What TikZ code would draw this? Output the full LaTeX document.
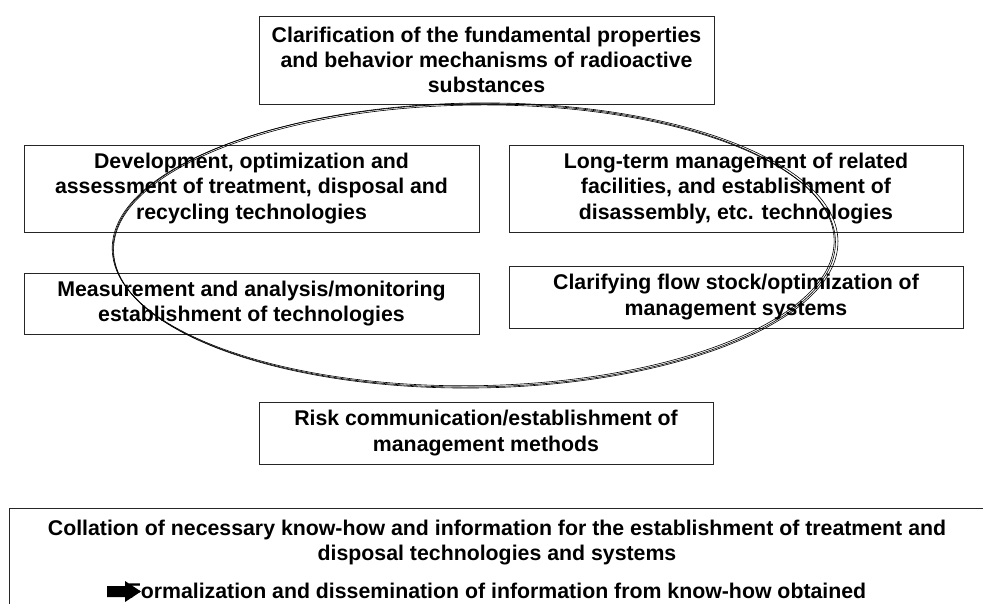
\documentclass[tikz,border=0pt]{standalone}
\usepackage{fontspec}
\setmainfont{Liberation Sans}
\begin{document}
\begin{tikzpicture}[x=1pt,y=-1pt,
  box/.style={draw=black!85, line width=0.9pt, inner sep=0pt, align=center,
    font=\bfseries\fontsize{21.3}{25.3}\selectfont},
  txt/.style={inner sep=0pt, align=center, font=\bfseries\fontsize{21.3}{25.3}\selectfont},
  ring/.style={draw=black, line width=0.6pt}]
\useasboundingbox (0,0) rectangle (983,604);
\node[box, minimum width=455pt, minimum height=88pt] (props) at (486.5,60)
  {Clarification of the fundamental properties\\and behavior mechanisms of radioactive\\substances};
\node[box, minimum width=455pt, minimum height=87pt] (dev) at (251.5,188.5)
  {Development, optimization and\\assessment of treatment, disposal and\\recycling technologies};
\node[box, minimum width=454pt, minimum height=87pt] (long) at (736,188.5)
  {Long-term management of related\\facilities, and establishment of\\disassembly, etc. technologies};
\node[box, minimum width=455pt, minimum height=61pt] (meas) at (251.5,303.5)
  {Measurement and analysis/monitoring\\establishment of technologies};
\node[box, minimum width=454pt, minimum height=62pt] (flow) at (736,297)
  {Clarifying flow stock/optimization of\\management systems};
\node[box, minimum width=454pt, minimum height=62pt] (risk) at (486,433)
  {Risk communication/establishment of\\management methods};
\node[box, anchor=north west, minimum width=980pt, minimum height=120pt] (info) at (9,508) {};
\node[txt, anchor=north] (info1) at (497,519.5)
  {Collation of necessary know-how and information for the establishment of treatment and\\disposal technologies and systems};
\node[txt, anchor=base] (info2) at (497,598)
  {Formalization and dissemination of information from know-how obtained};
\fill[black] (107,586) -- (125,586) -- (125,581) -- (141,591.5) -- (125,602) -- (125,597) -- (107,597) -- cycle;
\begin{scope}[shift={(474.5,246)}, rotate=0.7]
  \draw[ring] (0,0) ellipse [x radius=361, y radius=141];
  \draw[ring] (-1.3,-1.3) ellipse [x radius=361, y radius=141];
  \draw[ring] (1,-0.5) ellipse [x radius=362.5, y radius=142.5];
\end{scope}
\end{tikzpicture}
\end{document}
